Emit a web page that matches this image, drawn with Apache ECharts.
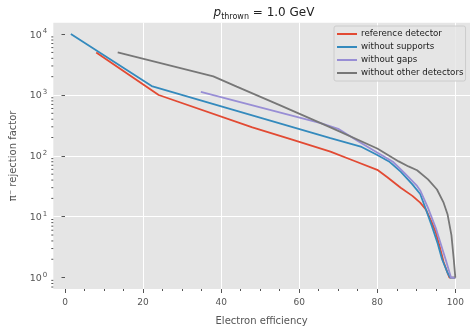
<!DOCTYPE html>
<html>
<head>
<meta charset="utf-8">
<script src="https://cdn.jsdelivr.net/npm/echarts@6/dist/echarts.min.js"></script>
<style>
  html, body { margin: 0; padding: 0; background: #fff; }
  #chart { width: 470px; height: 331px; }
</style>
</head>
<body>
<div id="chart"></div>
<script>
// efficiency (%) vs pion rejection
const refX = [8, 24, 48, 58, 68, 74, 80, 82.5, 86, 89, 91, 92.5, 94, 95, 96, 97, 98, 98.5, 100]
const refY = [5000, 1000, 294, 186, 117, 83, 59, 45, 30, 22, 17, 13, 8, 5.5, 3.2, 1.8, 1.2, 1, 1]

const noSupX = [1.5, 22.2, 68, 76, 80, 83, 86, 89, 91, 92.5, 94, 95.5, 96.6, 98, 98.7, 100]
const noSupY = [10000, 1400, 196, 140, 103, 81, 55, 34, 23.6, 13, 7, 3.6, 2, 1.2, 1, 1]

const noGapX = [34.8, 65.5, 70, 75, 80.3, 84, 87, 90.2, 91, 93, 95, 96.5, 97.5, 98.9, 100]
const noGapY = [1120, 344, 278, 175, 110, 80, 52, 32, 27, 14, 6.5, 3.2, 2, 1, 1]

const noOtherX = [13.5, 38, 44, 55, 68, 80, 85.5, 88, 90.2, 93, 95.3, 97, 98, 99, 99.6, 100]
const noOtherY = [5000, 2020, 1370, 680, 294, 132, 81, 67, 58, 41, 28, 17, 11, 5, 2, 1]

const seriesNames = ['reference detector', 'without supports', 'without gaps', 'without other detectors']
const colors = ['#E24A33', '#348ABD', '#988ED5', '#777777']

const xTicks = [0, 20, 40, 60, 80, 100]
const yTicks = [1, 10, 100, 1000, 10000]
const yTickExps = ['0', '1', '2', '3', '4']
const yMinorMantissas = [2, 3, 4, 5, 6, 7, 8, 9]
const yMinorDecades = [0.1, 1, 10, 100, 1000]

const xMin = -3, xMax = 103.76
const yMin = 0.6494, yMax = 15399

const zip = (xs, ys) => xs.map((x, i) => [x, ys[i]])
const lines = [zip(refX, refY), zip(noSupX, noSupY), zip(noGapX, noGapY), zip(noOtherX, noOtherY)]

const yMinor = []
yMinorDecades.forEach(d => yMinorMantissas.forEach(m => {
    const v = m * d
    if (v > yMin && v < yMax) yMinor.push([xMin, v])
}))

const tickColor = '#555555'
const font = 'DejaVu Sans'

const chart = echarts.init(document.getElementById('chart'))

chart.setOption({
    animation: false,
    title: {
        left: 259,
        top: 2,
        textAlign: 'center',
        text: '{p|p}{s|thrown}{n| = 1.0 GeV}',
        textStyle: {
            fontWeight: 'normal',
            rich: {
                p: { fontFamily: font, fontStyle: 'italic', fontWeight: 'normal', fontSize: 12, color: '#222', lineHeight: 14, verticalAlign: 'top' },
                s: { fontFamily: font, fontWeight: 'normal', fontSize: 8, color: '#222', lineHeight: 10, padding: [6, 0, 0, 0], verticalAlign: 'top' },
                n: { fontFamily: font, fontWeight: 'normal', fontSize: 12, color: '#222', lineHeight: 14, verticalAlign: 'top' }
            }
        }
    },
    legend: {
        data: seriesNames,
        orient: 'vertical',
        left: 334,
        top: 26,
        padding: [3, 2, 3, 3],
        itemGap: 3,
        itemWidth: 20,
        itemHeight: 2,
        icon: 'rect',
        backgroundColor: 'rgba(229,229,229,0.8)',
        borderColor: '#cccccc',
        borderWidth: 1,
        borderRadius: 2,
        textStyle: { fontFamily: font, fontSize: 8.7, color: '#222', lineHeight: 10, padding: [0, 0, 0, -1] }
    },
    grid: {
        left: 53.3,
        right: 0,
        top: 22.7,
        bottom: 35.3,
        show: true,
        backgroundColor: '#E5E5E5',
        borderWidth: 0
    },
    xAxis: {
        type: 'value',
        min: xMin,
        max: xMax,
        splitNumber: 5,
        name: 'Electron efficiency',
        nameLocation: 'middle',
        nameGap: 27,
        nameTextStyle: { fontFamily: font, fontSize: 10, color: tickColor },
        axisLine: { show: false },
        axisTick: { length: 4, customValues: xTicks, lineStyle: { color: tickColor } },
        minorTick: { show: true, splitNumber: 4, length: 2, lineStyle: { color: tickColor } },
        axisLabel: { customValues: xTicks, fontFamily: font, fontSize: 9, color: tickColor, margin: 9.5 },
        splitLine: { show: true, showMinLine: false, lineStyle: { color: '#ffffff', width: 1 } }
    },
    yAxis: {
        type: 'log',
        logBase: 10,
        min: yMin,
        max: yMax,
        name: 'π⁻ rejection factor',
        nameLocation: 'middle',
        nameGap: 35,
        nameTextStyle: { fontFamily: font, fontSize: 10, color: tickColor },
        axisLine: { show: false },
        axisTick: { length: 3.5, customValues: yTicks, lineStyle: { color: tickColor } },
        axisLabel: {
            customValues: yTicks,
            color: tickColor,
            margin: 6,
            formatter: v => {
                const i = yTicks.findIndex(t => Math.abs(Math.log10(t) - Math.log10(v)) < 1e-6)
                return i >= 0 ? '{b|10}{s|' + yTickExps[i] + '}' : ''
            },
            rich: {
                b: { fontFamily: font, fontSize: 9.5, color: tickColor, lineHeight: 12, verticalAlign: 'bottom', padding: [0, 1, 0, 0] },
                s: { fontFamily: font, fontSize: 7, color: tickColor, lineHeight: 8, padding: [0, 0, 5, 0], verticalAlign: 'bottom' }
            }
        },
        splitLine: { show: true, showMinLine: false, showMaxLine: false, lineStyle: { color: '#ffffff', width: 1 } }
    },
    series: [
        ...lines.map((d, i) => ({
            name: seriesNames[i],
            type: 'line',
            data: d,
            symbol: 'none',
            color: colors[i],
            lineStyle: { width: 1.8, color: colors[i] },
            z: 3 + i
        })),
        {
            // log minor ticks on the left edge (2..9 x 10^n)
            type: 'custom',
            data: yMinor,
            clip: false,
            silent: true,
            renderItem: (params, api) => {
                const p = api.coord([api.value(0), api.value(1)])
                return {
                    type: 'line',
                    shape: { x1: p[0] - 2, y1: p[1], x2: p[0], y2: p[1] },
                    style: { stroke: tickColor, lineWidth: 1 }
                }
            }
        }
    ]
})
</script>
</body>
</html>
